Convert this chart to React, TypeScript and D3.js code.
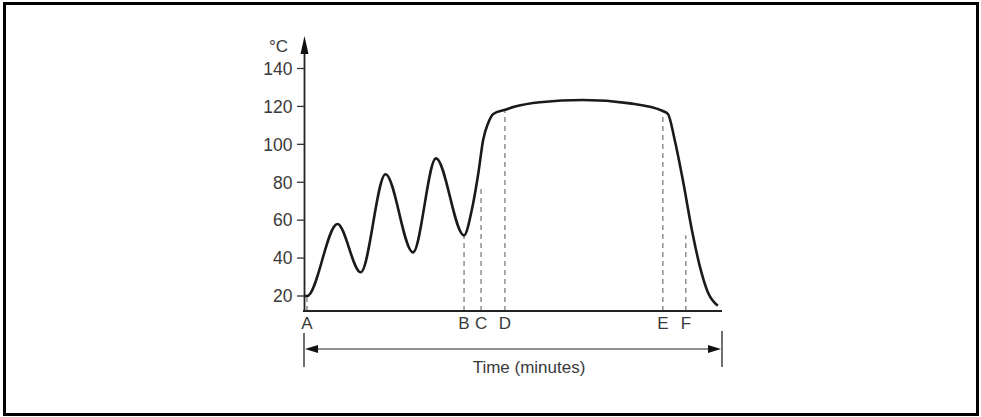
import React from "react";
import * as d3 from "d3";

// Temperature profile (schematic): time in minutes, temperature in °C
const times = [0.3, 1.0, 11.2, 19.0, 27.3, 36.5, 44.2, 53.6, 56.2, 58.4, 60.0, 61.7, 63.4, 67.3, 70.7, 79, 93.4, 109.2, 120.2, 121.9, 124.2, 126.9, 129.9, 132.6, 135.3, 138.6];
const temps = [20.1, 20, 58, 32.5, 84.2, 43, 92.6, 52, 65.4, 84.9, 102.3, 111.3, 116, 118.2, 119.9, 122.2, 123.4, 121.6, 117.6, 116, 102, 81, 55, 35.5, 21.8, 14.8];

const yTicks = [20, 40, 60, 80, 100, 120, 140];
const markerLabels = ["A", "B", "C", "D", "E", "F"];
const markerTimes = [1, 53.6, 59.3, 67.3, 120.2, 127.9];
const markerTops = [20, 52, 78.5, 117.5, 116.8, 52];

const xAxisLabel = "Time (minutes)";
const yUnit = "°C";

export default function App() {
  const x = d3.scaleLinear().domain([0, 140]).range([304, 722]);
  const y = d3.scaleLinear().domain([20, 140]).range([296, 68.5]);
  const baseY = 311;
  const font = "'Liberation Sans', Arial, Helvetica, sans-serif";
  const textFill = "#3a3a3a";

  const line = d3
    .line<number>()
    .x((_, i) => x(times[i]))
    .y((d) => y(d))
    .curve(d3.curveMonotoneX);

  return (
    <svg
      width={981}
      height={417}
      style={{ position: "absolute", left: 0, top: 0, background: "#fff" }}
    >
      <rect x={4.5} y={3.5} width={973} height={411} fill="none" stroke="#000" strokeWidth={3} />

      {/* dashed marker lines */}
      {markerTimes.map((t, i) => (
        <line
          key={"m" + i}
          x1={x(t)}
          x2={x(t)}
          y1={baseY}
          y2={y(markerTops[i])}
          stroke="#555"
          strokeWidth={1}
          strokeDasharray="5,4"
        />
      ))}

      {/* curve */}
      <path d={line(temps) || ""} fill="none" stroke="#1a1a1a" strokeWidth={2.6} strokeLinejoin="round" />

      {/* y axis */}
      <line x1={304.5} x2={304.5} y1={baseY + 1} y2={50} stroke="#222" strokeWidth={1.8} />
      <path d="M304.5,36 L300.5,54 L308.5,54 Z" fill="#111" />
      {yTicks.map((v) => (
        <g key={v}>
          <line x1={297} x2={304} y1={y(v)} y2={y(v)} stroke="#333" strokeWidth={1.3} />
          <text
            x={292.5}
            y={y(v)}
            dy="0.36em"
            textAnchor="end"
            fontFamily={font}
            fontSize={17.5}
            fill={textFill}
          >
            {v}
          </text>
        </g>
      ))}
      <text x={288} y={52} textAnchor="end" fontFamily={font} fontSize={17} fill={textFill}>
        {yUnit}
      </text>

      {/* x axis */}
      <line x1={303} x2={722} y1={baseY} y2={baseY} stroke="#222" strokeWidth={2} />
      {markerLabels.map((l, i) => (
        <text
          key={l}
          x={x(markerTimes[i])}
          y={329}
          textAnchor="middle"
          fontFamily={font}
          fontSize={17}
          fill={textFill}
        >
          {l}
        </text>
      ))}

      {/* time span arrow */}
      <line x1={304} x2={304} y1={333} y2={367} stroke="#222" strokeWidth={1.3} />
      <line x1={722} x2={722} y1={331} y2={367} stroke="#222" strokeWidth={1.3} />
      <line x1={312} x2={714} y1={349} y2={349} stroke="#222" strokeWidth={1.2} />
      <path d="M305,349 L318,345 L318,353 Z" fill="#111" />
      <path d="M721,349 L708,345 L708,353 Z" fill="#111" />
      <text x={529} y={373} textAnchor="middle" fontFamily={font} fontSize={17} fill={textFill}>
        {xAxisLabel}
      </text>
    </svg>
  );
}
